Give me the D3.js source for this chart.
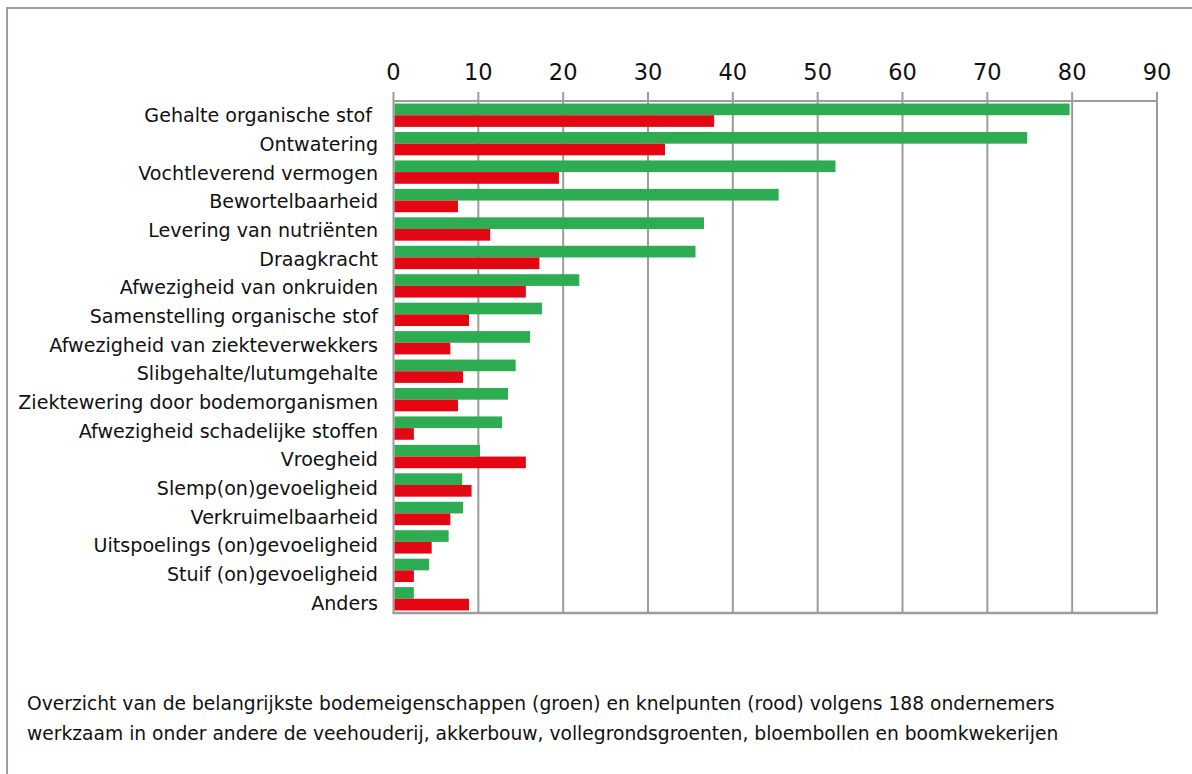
<!DOCTYPE html>
<html><head><meta charset="utf-8">
<script src="https://cdn.jsdelivr.net/npm/d3@7"></script>
<style>body{margin:0;background:#fff;} svg{display:block;font-family:"DejaVu Sans",Verdana,sans-serif;}</style>
</head><body>
<svg id="c" width="1192" height="774"></svg>
<script>
const categories = ["Gehalte organische stof ","Ontwatering","Vochtleverend vermogen","Bewortelbaarheid","Levering van nutriënten","Draagkracht","Afwezigheid van onkruiden","Samenstelling organische stof","Afwezigheid van ziekteverwekkers","Slibgehalte/lutumgehalte","Ziektewering door bodemorganismen","Afwezigheid schadelijke stoffen","Vroegheid","Slemp(on)gevoeligheid","Verkruimelbaarheid","Uitspoelings (on)gevoeligheid","Stuif (on)gevoeligheid","Anders"];
const groen = [79.7,74.7,52.1,45.4,36.6,35.6,21.9,17.5,16.1,14.4,13.5,12.8,10.2,8.1,8.2,6.5,4.2,2.4];
const rood  = [37.8,32.0,19.5,7.6,11.4,17.2,15.6,8.9,6.7,8.2,7.6,2.4,15.6,9.2,6.7,4.5,2.4,8.9];
const xTicks = [0,10,20,30,40,50,60,70,80,90];
const caption = ["Overzicht van de belangrijkste bodemeigenschappen (groen) en knelpunten (rood) volgens 188 ondernemers",
                 "werkzaam in onder andere de veehouderij, akkerbouw, vollegrondsgroenten, bloembollen en boomkwekerijen"];

const svg = d3.select("#c");
// outer frame
svg.append("rect").attr("x",7).attr("y",8).attr("width",1200).attr("height",800)
  .attr("fill","none").attr("stroke","#a39d98").attr("stroke-width",2);

const L=393.5, R=1157, T=101, B=613;
const x = d3.scaleLinear().domain([0,90]).range([L,R]);
const y = d3.scaleBand().domain(categories).range([T,B]).paddingInner(0.18).paddingOuter(0.09);
const yl = d3.scalePoint().domain(categories).range([T+14.5, B-10]);
const gridC="#9c9c9c";

// gridlines
svg.append("g").selectAll("line").data(xTicks).join("line")
  .attr("x1",d=>x(d)).attr("x2",d=>x(d)).attr("y1",T-9).attr("y2",B)
  .attr("stroke",gridC).attr("stroke-width",2);
// box
svg.append("line").attr("x1",L).attr("x2",R).attr("y1",T).attr("y2",T).attr("stroke",gridC).attr("stroke-width",2);
svg.append("line").attr("x1",L-1).attr("x2",R+1).attr("y1",B).attr("y2",B).attr("stroke",gridC).attr("stroke-width",2.5);

// bars
const bh = y.bandwidth()/2;
svg.append("g").selectAll("rect").data(categories).join("rect")
  .attr("x",x(0)+1).attr("y",d=>y(d)).attr("height",bh)
  .attr("width",(d,i)=>x(groen[i])-x(0)-1).attr("fill","#2eac52");
svg.append("g").selectAll("rect").data(categories).join("rect")
  .attr("x",x(0)+1).attr("y",d=>y(d)+bh).attr("height",bh)
  .attr("width",(d,i)=>x(rood[i])-x(0)-1).attr("fill","#e30613");

// top tick labels
svg.append("g").selectAll("text").data(xTicks).join("text")
  .attr("x",d=>x(d)).attr("y",72).attr("dy","0.35em").attr("text-anchor","middle")
  .attr("font-size",22.5).attr("fill","#111").text(d=>d);

// category labels
svg.append("g").selectAll("text").data(categories).join("text")
  .attr("x",378).attr("y",d=>yl(d)).attr("dy","0.35em")
  .attr("text-anchor","end").attr("font-size",19.1).attr("fill","#111")
  .attr("xml:space","preserve").style("white-space","pre").text(d=>d);

// caption
svg.append("g").selectAll("text").data(caption).join("text")
  .attr("x",27).attr("y",(d,i)=>703+i*30).attr("dy","0.35em")
  .attr("font-size",18.7).attr("fill","#111").text(d=>d);
</script>
</body></html>
